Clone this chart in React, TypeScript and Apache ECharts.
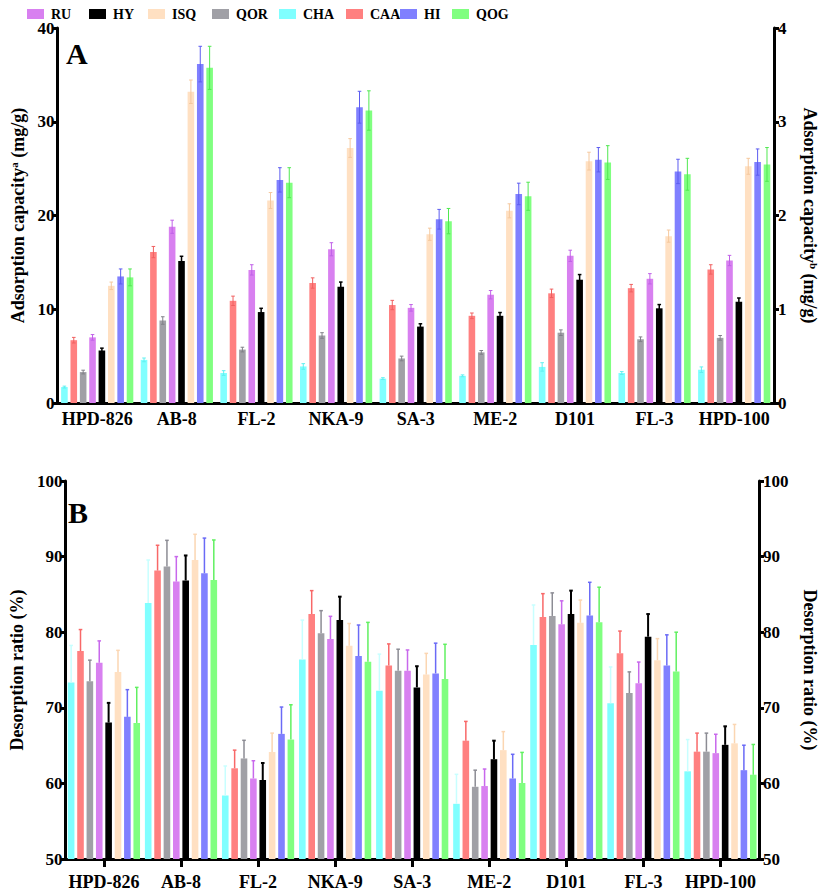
import React, { useEffect, useRef } from "react";
import * as echarts from "echarts";

const categories = ["HPD-826", "AB-8", "FL-2", "NKA-9", "SA-3", "ME-2", "D101", "FL-3", "HPD-100"];
const legendOrder = ["RU", "HY", "ISQ", "QOR", "CHA", "CAA", "HI", "QOG"];
const plotOrder = ["CHA", "CAA", "QOR", "RU", "HY", "ISQ", "HI", "QOG"];

const barColors: Record<string, string> = {
  RU: "#D880F0", HY: "#000000", ISQ: "#FFE0C2", QOR: "#A0A0A6",
  CHA: "#80FFFF", CAA: "#FF8080", HI: "#8080FF", QOG: "#80FF80",
};
const errColorsA: Record<string, string> = {
  RU: "#C060E8", HY: "#000000", ISQ: "#F5C89E", QOR: "#808088",
  CHA: "#60F0F0", CAA: "#F06060", HI: "#5C5CF0", QOG: "#50E850",
};
const errColorsB: Record<string, string> = {
  RU: "#C868EC", HY: "#000000", ISQ: "#FBD6B2", QOR: "#8C8C94",
  CHA: "#C8FFFF", CAA: "#F86868", HI: "#6A6AF6", QOG: "#60F060",
};

// Panel A: adsorption capacity (mg/g)
const adsCHA = [1.7, 4.6, 3.2, 3.9, 2.6, 2.9, 3.85, 3.2, 3.55];
const adsCHAErr = [0.1, 0.2, 0.25, 0.3, 0.1, 0.1, 0.45, 0.15, 0.3];
const adsCAA = [6.7, 16.1, 10.9, 12.8, 10.45, 9.3, 11.7, 12.25, 14.25];
const adsCAAErr = [0.3, 0.6, 0.5, 0.55, 0.5, 0.3, 0.45, 0.4, 0.5];
const adsQOR = [3.3, 8.8, 5.7, 7.2, 4.75, 5.4, 7.5, 6.8, 6.95];
const adsQORErr = [0.2, 0.4, 0.25, 0.3, 0.25, 0.2, 0.3, 0.25, 0.25];
const adsRU = [7.0, 18.8, 14.2, 16.4, 10.15, 11.55, 15.7, 13.25, 15.2];
const adsRUErr = [0.3, 0.7, 0.55, 0.7, 0.35, 0.45, 0.6, 0.55, 0.55];
const adsHY = [5.6, 15.15, 9.7, 12.4, 8.15, 9.3, 13.15, 10.1, 10.8];
const adsHYErr = [0.25, 0.5, 0.4, 0.5, 0.3, 0.35, 0.55, 0.4, 0.4];
const adsISQ = [12.5, 33.2, 21.6, 27.2, 18.0, 20.5, 25.8, 17.8, 25.25];
const adsISQErr = [0.4, 1.25, 0.85, 1.0, 0.65, 0.75, 0.95, 0.65, 0.85];
const adsHI = [13.5, 36.15, 23.8, 31.55, 19.6, 22.3, 25.95, 24.7, 25.7];
const adsHIErr = [0.8, 1.9, 1.3, 1.7, 1.05, 1.15, 1.3, 1.3, 1.4];
const adsQOG = [13.4, 35.75, 23.5, 31.2, 19.4, 22.05, 25.65, 24.4, 25.45];
const adsQOGErr = [0.9, 2.3, 1.6, 2.1, 1.35, 1.5, 1.8, 1.7, 1.8];

// Panel B: desorption ratio (%)
const desCHA = [73.35, 83.85, 58.4, 76.4, 72.25, 57.3, 78.3, 70.6, 61.6];
const desCHAErr = [4.9, 5.7, 3.9, 5.2, 4.85, 3.9, 5.3, 4.8, 4.2];
const desCAA = [77.5, 88.15, 62.0, 82.4, 75.6, 65.65, 82.0, 77.2, 64.2];
const desCAAErr = [2.85, 3.35, 2.4, 3.1, 2.85, 2.55, 3.1, 2.95, 2.45];
const desQOR = [73.5, 88.7, 63.3, 79.85, 74.9, 59.55, 82.15, 71.95, 64.2];
const desQORErr = [2.8, 3.45, 2.4, 3.0, 2.85, 2.2, 3.05, 2.8, 2.45];
const desRU = [75.95, 86.7, 60.65, 79.1, 74.9, 59.65, 81.05, 73.25, 64.0];
const desRUErr = [2.9, 3.3, 2.35, 3.0, 2.75, 2.25, 3.1, 2.8, 2.5];
const desHY = [68.05, 86.85, 60.45, 81.6, 72.7, 63.2, 82.4, 79.4, 65.1];
const desHYErr = [2.6, 3.3, 2.25, 3.1, 2.8, 2.45, 3.1, 3.0, 2.45];
const desISQ = [74.75, 89.55, 64.15, 78.2, 74.4, 64.4, 81.25, 76.3, 65.3];
const desISQErr = [2.85, 3.4, 2.5, 2.95, 2.8, 2.45, 3.0, 2.85, 2.5];
const desHI = [68.8, 87.8, 66.55, 76.85, 74.55, 60.65, 82.2, 75.6, 61.75];
const desHIErr = [3.6, 4.65, 3.55, 4.1, 4.0, 3.2, 4.4, 4.05, 3.3];
const desQOG = [68.0, 86.9, 65.8, 76.1, 73.8, 60.05, 81.3, 74.8, 61.15];
const desQOGErr = [4.7, 5.3, 4.6, 5.2, 4.6, 4.05, 4.65, 5.2, 4.0];

const adsValues: Record<string, number[]> = { CHA: adsCHA, CAA: adsCAA, QOR: adsQOR, RU: adsRU, HY: adsHY, ISQ: adsISQ, HI: adsHI, QOG: adsQOG };
const adsErrors: Record<string, number[]> = { CHA: adsCHAErr, CAA: adsCAAErr, QOR: adsQORErr, RU: adsRUErr, HY: adsHYErr, ISQ: adsISQErr, HI: adsHIErr, QOG: adsQOGErr };
const desValues: Record<string, number[]> = { CHA: desCHA, CAA: desCAA, QOR: desQOR, RU: desRU, HY: desHY, ISQ: desISQ, HI: desHI, QOG: desQOG };
const desErrors: Record<string, number[]> = { CHA: desCHAErr, CAA: desCAAErr, QOR: desQORErr, RU: desRUErr, HY: desHYErr, ISQ: desISQErr, HI: desHIErr, QOG: desQOGErr };

const FONT = "'Liberation Serif', 'Times New Roman', serif";
const BAR_W = 6.6;
const GAP_PCT = 42;
const PITCH = BAR_W * (1 + GAP_PCT / 100);
const LEGEND_LEFT = [22, 84, 143, 207, 274, 341, 395, 447];

function errSeries(name: string, idx: number, values: number[], errs: number[], axis: number, symmetric: boolean, color: string, lw: number) {
  return {
    type: "custom",
    name,
    xAxisIndex: axis,
    yAxisIndex: axis === 0 ? 0 : 2,
    z: 4,
    silent: true,
    data: values.map((v, k) => [k, v, errs[k]]),
    encode: { x: 0, y: 1 },
    renderItem: (_p: any, api: any) => {
      const k = api.value(0);
      const v = api.value(1);
      const e = api.value(2);
      const top = api.coord([k, v + e]);
      const bot = api.coord([k, symmetric ? v - e : v]);
      const x = top[0] + (idx - 3.5) * PITCH;
      const cap = 1.8;
      return {
        type: "group",
        children: [
          { type: "line", shape: { x1: x, y1: top[1], x2: x, y2: bot[1] }, style: { stroke: color, lineWidth: lw } },
          { type: "line", shape: { x1: x - cap, y1: top[1], x2: x + cap, y2: top[1] }, style: { stroke: color, lineWidth: lw } },
          ...(symmetric ? [{ type: "line", shape: { x1: x - cap, y1: bot[1], x2: x + cap, y2: bot[1] }, style: { stroke: color, lineWidth: lw } }] : []),
        ],
      };
    },
  };
}

const labelStyle = { fontFamily: FONT, fontWeight: "bold", fontSize: 17, color: "#000" };
const axisLine = { show: true, lineStyle: { color: "#000", width: 3 } };
const axisTick = { show: true, length: 5, lineStyle: { color: "#000", width: 3 } };

export default function App() {
  const ref = useRef<HTMLDivElement>(null);
  useEffect(() => {
    if (!ref.current) return;
    const chart = echarts.init(ref.current, null, { renderer: "svg" });
    const series: any[] = [];
    plotOrder.forEach((name) => {
      series.push({
        type: "bar", name, xAxisIndex: 0, yAxisIndex: 0, data: adsValues[name],
        barWidth: BAR_W, barGap: GAP_PCT + "%", itemStyle: { color: barColors[name] }, z: 2,
      });
      series.push({
        type: "bar", name, xAxisIndex: 1, yAxisIndex: 2, data: desValues[name],
        barWidth: BAR_W, barGap: GAP_PCT + "%", itemStyle: { color: barColors[name] }, z: 2,
      });
    });
    plotOrder.forEach((name, i) => {
      series.push(errSeries(name, i, adsValues[name], adsErrors[name], 0, true, errColorsA[name], name === "HY" ? 1.5 : 1));
      series.push(errSeries(name, i, desValues[name], desErrors[name], 1, false, errColorsB[name], name === "HY" ? 2 : 1.5));
    });

    const richName = {
      n: { fontFamily: FONT, fontWeight: "bold", fontSize: 18, color: "#000" },
      s: { fontFamily: FONT, fontWeight: "bold", fontSize: 11, color: "#000", verticalAlign: "top", padding: [0, 0, 8, 0] },
    };

    chart.setOption({
      animation: false,
      backgroundColor: "#fff",
      legend: legendOrder.map((n, i) => ({
        data: [{ name: n, icon: "rect" }],
        left: LEGEND_LEFT[i], top: 2, itemWidth: 17, itemHeight: 10,
        textStyle: { fontFamily: FONT, fontWeight: "bold", fontSize: 14, color: "#000", padding: [0, 0, 0, 2] },
        selectedMode: false,
      })),
      grid: [
        { left: 50, right: 50, top: 28, height: 375 },
        { left: 50, right: 50, top: 481, height: 378 },
      ],
      xAxis: [
        {
          type: "category", gridIndex: 0, data: categories,
          axisLine, axisTick: { show: false },
          axisLabel: { ...labelStyle, fontSize: 18, margin: 7, interval: 0 },
        },
        {
          type: "category", gridIndex: 1, data: categories,
          axisLine, axisTick: { show: true, alignWithLabel: true, length: 8, lineStyle: { color: "#000", width: 3 } },
          axisLabel: { ...labelStyle, fontSize: 18, margin: 14, interval: 0 },
        },
      ],
      yAxis: [
        {
          type: "value", gridIndex: 0, min: 0, max: 40, interval: 10, position: "left",
          axisLine, axisTick, splitLine: { show: false },
          axisLabel: { ...labelStyle, margin: 3 },
          name: "{n|Adsorption capacity}{s|a}{n| (mg/g)}", nameLocation: "middle", nameGap: 30,
          nameTextStyle: { rich: richName },
        },
        {
          type: "value", gridIndex: 0, min: 0, max: 4, interval: 1, position: "right",
          axisLine, axisTick, splitLine: { show: false },
          axisLabel: { ...labelStyle, margin: 4 },
          name: "{n|Adsorption capacity}{s|b}{n| (mg/g)}", nameLocation: "middle", nameGap: 26, nameRotate: -90,
          nameTextStyle: { rich: richName },
        },
        {
          type: "value", gridIndex: 1, min: 50, max: 100, interval: 10, position: "left",
          axisLine, axisTick, splitLine: { show: false },
          axisLabel: { ...labelStyle, margin: 3 },
          name: "Desorption ratio (%)", nameLocation: "middle", nameGap: 34,
          nameTextStyle: { fontFamily: FONT, fontWeight: "bold", fontSize: 18, color: "#000" },
        },
        {
          type: "value", gridIndex: 1, min: 50, max: 100, interval: 10, position: "right",
          axisLine, axisTick, splitLine: { show: false },
          axisLabel: { ...labelStyle, margin: 4 },
          name: "Desorption ratio (%)", nameLocation: "middle", nameGap: 42, nameRotate: -90,
          nameTextStyle: { fontFamily: FONT, fontWeight: "bold", fontSize: 18, color: "#000" },
        },
      ],
      graphic: [
        { type: "text", left: 66, top: 38, style: { text: "A", font: `bold 30px ${FONT}`, fill: "#000" } },
        { type: "text", left: 68, top: 497, style: { text: "B", font: `bold 30px ${FONT}`, fill: "#000" } },
      ],
      series,
    });
    return () => chart.dispose();
  }, []);
  return <div ref={ref} style={{ width: 827, height: 892, position: "absolute", left: 0, top: 0 }} />;
}
